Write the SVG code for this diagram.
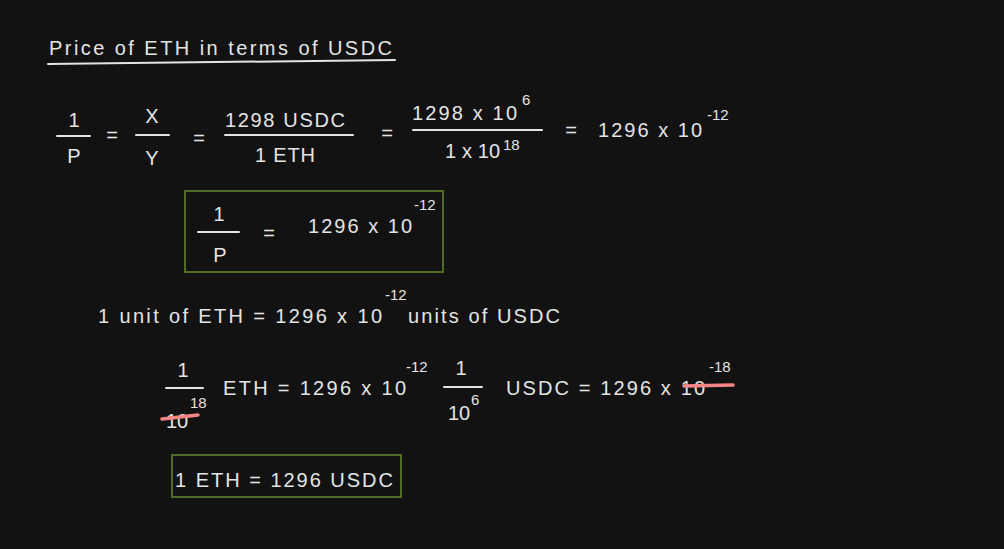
<svg xmlns="http://www.w3.org/2000/svg" width="1004" height="549" viewBox="0 0 1004 549">
<style>
.t{font-family:"Liberation Sans",Arial,sans-serif;font-size:20px;fill:#e4e4e4}
.s{font-family:"Liberation Sans",Arial,sans-serif;font-size:15px;fill:#e4e4e4}
.c{text-anchor:middle}
.bar{stroke:#e4e4e4;stroke-width:2;stroke-linecap:round;fill:none}
.box{fill:none;stroke:#4f6b25;stroke-width:2}
.strike{stroke:#f48585;stroke-width:3.5;stroke-linecap:round;fill:none}
</style>
<rect width="1004" height="549" fill="#121212"/>

<g id="title">
<text class="t" x="49" y="55" font-size="21" textLength="343" lengthAdjust="spacing">Price of ETH in terms of USDC</text>
<path class="bar" d="M48 64 L395 60"/>
</g>

<g id="row1">
<text class="t c" x="74" y="127">1</text>
<path class="bar" d="M57 136 L90 136"/>
<text class="t c" x="74" y="163">P</text>
<text class="t c" x="112" y="142">=</text>
<text class="t c" x="152" y="123">X</text>
<path class="bar" d="M136 135 L169 135"/>
<text class="t c" x="152" y="165">Y</text>
<text class="t c" x="199" y="145">=</text>
<text class="t" x="225" y="127" textLength="120" lengthAdjust="spacing">1298 USDC</text>
<path class="bar" d="M225 135 L353 135"/>
<text class="t" x="255" y="162" textLength="60" lengthAdjust="spacing">1 ETH</text>
<text class="t c" x="387" y="140">=</text>
<text class="t" x="412" y="120" textLength="105" lengthAdjust="spacing">1298 x 10</text>
<text class="s" x="522" y="105">6</text>
<path class="bar" d="M413 130 L542 130"/>
<text class="t" x="445" y="158" textLength="55" lengthAdjust="spacing">1 x 10</text>
<text class="s" x="503" y="150">18</text>
<text class="t c" x="571" y="137">=</text>
<text class="t" x="598" y="137" textLength="104" lengthAdjust="spacing">1296 x 10</text>
<text class="s" x="707" y="120">-12</text>
</g>

<g id="box1">
<rect class="box" x="185" y="191" width="258" height="81"/>
<text class="t c" x="219" y="221">1</text>
<path class="bar" d="M198 232 L239 232"/>
<text class="t c" x="220" y="262">P</text>
<text class="t c" x="269" y="240">=</text>
<text class="t" x="308" y="233" textLength="104" lengthAdjust="spacing">1296 x 10</text>
<text class="s" x="414" y="210">-12</text>
</g>

<g id="unit-line">
<text class="t" x="98" y="323" textLength="284" lengthAdjust="spacing">1 unit of ETH = 1296 x 10</text>
<text class="s" x="385" y="300">-12</text>
<text class="t" x="408" y="323" textLength="152" lengthAdjust="spacing">units of USDC</text>
</g>

<g id="row4">
<text class="t c" x="183" y="377">1</text>
<path class="bar" d="M166 388 L203 388"/>
<text class="t" x="166" y="428">10</text>
<text class="s" x="190" y="408">18</text>
<path class="strike" d="M162 419 L198 415"/>
<text class="t" x="223" y="395" textLength="183" lengthAdjust="spacing">ETH = 1296 x 10</text>
<text class="s" x="406" y="372">-12</text>
<text class="t c" x="461" y="375">1</text>
<path class="bar" d="M444 387 L482 387"/>
<text class="t" x="448" y="420">10</text>
<text class="s" x="471" y="405">6</text>
<text class="t" x="506" y="395" textLength="199" lengthAdjust="spacing">USDC = 1296 x 10</text>
<text class="s" x="709" y="372">-18</text>
<path class="strike" d="M684 386 L733 385"/>
</g>

<g id="box2">
<rect class="box" x="172" y="455" width="229" height="42"/>
<text class="t" x="175" y="487" textLength="218" lengthAdjust="spacing">1 ETH = 1296 USDC</text>
</g>
</svg>
